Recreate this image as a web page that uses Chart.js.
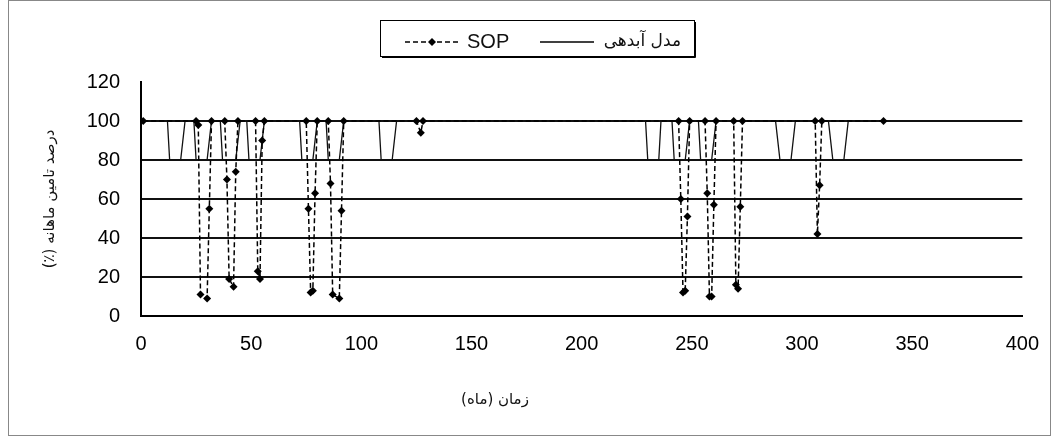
<!DOCTYPE html>
<html>
<head>
<meta charset="utf-8">
<script src="https://cdn.jsdelivr.net/npm/chart.js@4.4.1/dist/chart.umd.min.js"></script>
<style>
  html, body { margin: 0; padding: 0; background: #fff; }
  #wrap { position: relative; width: 1055px; height: 436px; }
  #frame { position: absolute; left: 8px; top: 0; width: 1041px; height: 434px; border: 1px solid #888; pointer-events: none; }
</style>
</head>
<body>
<div id="wrap">
  <canvas id="chart" width="1055" height="436"></canvas>
  <div id="frame"></div>
</div>
<script>
// Axis ticks
const xTicks = [0, 50, 100, 150, 200, 250, 300, 350, 400];
const yTicks = [0, 20, 40, 60, 80, 100, 120];

// SOP series (month, % of monthly demand met)
const sopMonths = [1, 25, 26, 27, 30, 31, 32, 38, 39, 40, 42, 43, 44, 52, 53, 54, 55, 56,
  75, 76, 77, 78, 79, 80, 85, 86, 87, 90, 91, 92, 125, 127, 128,
  244, 245, 246, 247, 248, 249, 256, 257, 258, 259, 260, 261, 269, 270, 271, 272, 273,
  306, 307, 308, 309, 337];
const sopValues = [100, 100, 98, 11, 9, 55, 100, 100, 70, 19, 15, 74, 100, 100, 23, 19, 90, 100,
  100, 55, 12, 13, 63, 100, 100, 68, 11, 9, 54, 100, 100, 94, 100,
  100, 60, 12, 13, 51, 100, 100, 63, 10, 10, 57, 100, 100, 16, 14, 56, 100,
  100, 42, 67, 100, 100];

// Discharge model (corner points of the solid line)
const modelMonths = [0, 12, 13, 18, 20, 24, 25, 30, 32, 36, 37, 43, 45, 48, 49, 54, 56,
  72, 73, 78, 80, 84, 85, 90, 92, 108, 109, 114, 116,
  229, 230, 235, 236, 241, 242, 247, 249, 253, 254, 259, 261,
  288, 290, 295, 297, 312, 314, 319, 321, 340];
const modelValues = [100, 100, 80, 80, 100, 100, 80, 80, 100, 100, 80, 80, 100, 100, 80, 80, 100,
  100, 80, 80, 100, 100, 80, 80, 100, 100, 80, 80, 100,
  100, 80, 80, 100, 100, 80, 80, 100, 100, 80, 80, 100,
  100, 80, 80, 100, 100, 80, 80, 100, 100];

const seriesNames = ['SOP', 'مدل آبدهی'];
const xTitle = 'زمان (ماه)';
const yTitle = 'درصد تامین ماهانه (٪)';

const toPoints = (xs, ys) => xs.map((x, i) => ({ x: x, y: ys[i] }));

// legend box + axis titles drawn on the canvas
const decorations = {
  id: 'decorations',
  afterDraw(chart) {
    const ctx = chart.ctx;
    const area = chart.chartArea;
    ctx.save();

    // legend frame
    ctx.fillStyle = '#fff';
    ctx.fillRect(380, 20, 314, 36);
    ctx.strokeStyle = '#000';
    ctx.lineWidth = 1;
    ctx.strokeRect(380.5, 20.5, 314, 36);
    ctx.beginPath();
    ctx.moveTo(382, 57.5); ctx.lineTo(695.5, 57.5); ctx.lineTo(695.5, 22);
    ctx.stroke();

    // SOP sample
    const ly = 42;
    ctx.setLineDash([5, 3]);
    ctx.lineWidth = 1.5;
    ctx.beginPath();
    ctx.moveTo(405, ly); ctx.lineTo(458, ly);
    ctx.stroke();
    ctx.setLineDash([]);
    ctx.fillStyle = '#000';
    ctx.beginPath();
    ctx.moveTo(432, ly - 4); ctx.lineTo(436, ly); ctx.lineTo(432, ly + 4); ctx.lineTo(428, ly);
    ctx.closePath();
    ctx.fill();

    // model sample
    ctx.lineWidth = 1.3;
    ctx.beginPath();
    ctx.moveTo(540, ly); ctx.lineTo(594, ly);
    ctx.stroke();

    ctx.fillStyle = '#111';
    ctx.textBaseline = 'middle';
    ctx.font = '20px "Liberation Sans", Arial, sans-serif';
    ctx.textAlign = 'left';
    ctx.fillText(seriesNames[0], 467, ly);
    ctx.direction = 'rtl';
    ctx.font = '17px "DejaVu Sans", sans-serif';
    ctx.textAlign = 'right';
    ctx.fillText(seriesNames[1], 681, ly);

    // axis titles
    ctx.font = '15px "DejaVu Sans", sans-serif';
    ctx.textAlign = 'center';
    ctx.fillText(xTitle, 495, 400);
    ctx.translate(50, (area.top + area.bottom) / 2);
    ctx.rotate(-Math.PI / 2);
    ctx.fillText(yTitle, 0, 0);
    ctx.restore();
  }
};

new Chart(document.getElementById('chart'), {
  type: 'line',
  data: {
    datasets: [
      {
        label: seriesNames[0],
        data: toPoints(sopMonths, sopValues),
        borderColor: '#000',
        backgroundColor: '#000',
        borderWidth: 1.5,
        borderDash: [5, 3],
        pointStyle: 'rectRot',
        pointRadius: 4,
        pointBorderWidth: 0,
        pointBackgroundColor: '#000',
        tension: 0
      },
      {
        label: seriesNames[1],
        data: toPoints(modelMonths, modelValues),
        borderColor: '#111',
        borderWidth: 1.3,
        pointRadius: 0,
        tension: 0
      }
    ]
  },
  plugins: [decorations],
  options: {
    responsive: false,
    animation: false,
    layout: { padding: { top: 82, right: 32, bottom: 0, left: 0 } },
    plugins: {
      legend: { display: false },
      tooltip: { enabled: false }
    },
    scales: {
      x: {
        type: 'linear',
        min: 0,
        max: 400,
        afterBuildTicks: (s) => { s.ticks = xTicks.map(v => ({ value: v })); },
        afterFit: (s) => { s.height = 120; },
        grid: { display: false, drawTicks: false },
        border: { display: true, color: '#000', width: 2 },
        ticks: {
          color: '#000',
          padding: 16,
          maxRotation: 0,
          font: { family: '"Liberation Sans", Arial, sans-serif', size: 20 }
        }
      },
      y: {
        min: 0,
        max: 120,
        afterBuildTicks: (s) => { s.ticks = yTicks.map(v => ({ value: v })); },
        afterFit: (s) => { s.width = 141; },
        grid: {
          drawTicks: false,
          color: (c) => (c.tick && c.tick.value === 120 ? 'rgba(0,0,0,0)' : '#111'),
          lineWidth: 2
        },
        border: { display: true, color: '#000', width: 2 },
        ticks: {
          color: '#000',
          padding: 21,
          font: { family: '"Liberation Sans", Arial, sans-serif', size: 20 }
        }
      }
    }
  }
});
</script>
</body>
</html>
